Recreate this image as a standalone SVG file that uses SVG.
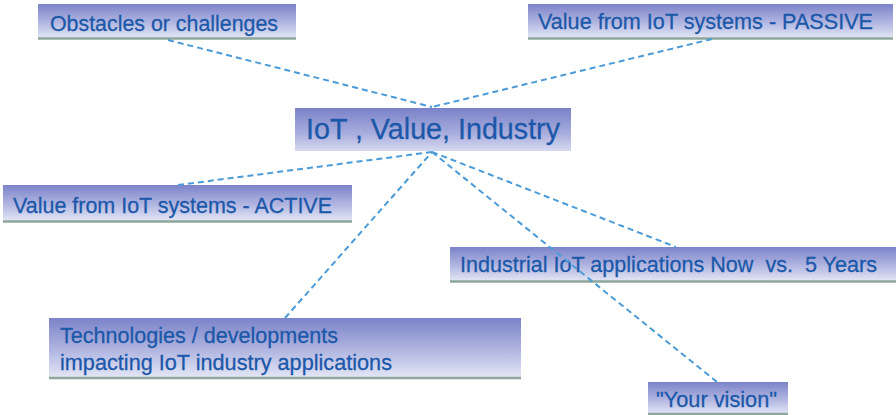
<svg xmlns="http://www.w3.org/2000/svg" width="896" height="415" viewBox="0 0 896 415">
<defs>
<linearGradient id="g" x1="0" y1="0" x2="0" y2="1">
<stop offset="0" stop-color="#7c83c9"/>
<stop offset="0.55" stop-color="#b3b8e2"/>
<stop offset="1" stop-color="#e6e9f6"/>
</linearGradient>
<linearGradient id="gc" x1="0" y1="0" x2="0" y2="1">
<stop offset="0" stop-color="#7a81c8"/>
<stop offset="0.6" stop-color="#a9aedd"/>
<stop offset="1" stop-color="#d6d9f0"/>
</linearGradient>
</defs>
<style>
.box{fill:url(#g);}
.cbox{fill:url(#gc);}
.base{stroke:#8ea79c;stroke-width:2.5;}
.t{font-family:"Liberation Sans",Arial,sans-serif;fill:#1c58a9;font-size:22.5px;white-space:pre;stroke:#1c58a9;stroke-width:0.3;}
.c{stroke:#4a9bd8;stroke-width:2;stroke-dasharray:6 4;fill:none;}
</style>
<rect width="896" height="415" fill="#ffffff"/>
<g id="center">
<rect class="cbox" x="295" y="108" width="276" height="43"/>
<text class="t" x="306" y="139" style="font-size:29.5px" textLength="254" lengthAdjust="spacingAndGlyphs">IoT , Value, Industry</text>
</g>
<g id="obstacles">
<rect class="box" x="38" y="4" width="258" height="35"/>
<line class="base" x1="38" y1="38.5" x2="296" y2="38.5"/>
<text class="t" x="50" y="31" textLength="228" lengthAdjust="spacingAndGlyphs">Obstacles or challenges</text>
</g>
<g id="passive">
<rect class="box" x="528" y="4" width="365" height="35"/>
<line class="base" x1="528" y1="38.5" x2="893" y2="38.5"/>
<text class="t" x="538" y="29" textLength="335" lengthAdjust="spacingAndGlyphs">Value from IoT systems - PASSIVE</text>
</g>
<g id="active">
<rect class="box" x="3" y="185" width="349" height="37"/>
<line class="base" x1="3" y1="221.5" x2="352" y2="221.5"/>
<text class="t" x="13" y="213" textLength="319" lengthAdjust="spacingAndGlyphs">Value from IoT systems - ACTIVE</text>
</g>
<g id="industrial">
<rect class="box" x="450" y="247" width="446" height="35"/>
<line class="base" x1="450" y1="281.5" x2="896" y2="281.5"/>
<text class="t" x="460" y="272" textLength="417" lengthAdjust="spacingAndGlyphs">Industrial IoT applications Now  vs.  5 Years</text>
</g>
<g id="technologies">
<rect class="box" x="49" y="318" width="472" height="61"/>
<line class="base" x1="49" y1="378" x2="521" y2="378"/>
<text class="t" x="60" y="343" textLength="278" lengthAdjust="spacingAndGlyphs">Technologies / developments</text>
<text class="t" x="60" y="370" textLength="332" lengthAdjust="spacingAndGlyphs">impacting IoT industry applications</text>
</g>
<g id="vision">
<rect class="box" x="648" y="382" width="140" height="33"/>
<line class="base" x1="648" y1="414" x2="788" y2="414"/>
<text class="t" x="656" y="407" textLength="121" lengthAdjust="spacingAndGlyphs">"Your vision"</text>
</g>
<g id="connectors">
<line class="c" x1="168" y1="40" x2="432" y2="107"/>
<line class="c" x1="712" y1="39" x2="432" y2="107"/>
<line class="c" x1="178" y1="185" x2="432" y2="152"/>
<line class="c" x1="285" y1="318" x2="432" y2="152"/>
<line class="c" x1="432" y1="152" x2="676" y2="247"/>
<line class="c" x1="432" y1="152" x2="717" y2="382"/>
</g>
</svg>
